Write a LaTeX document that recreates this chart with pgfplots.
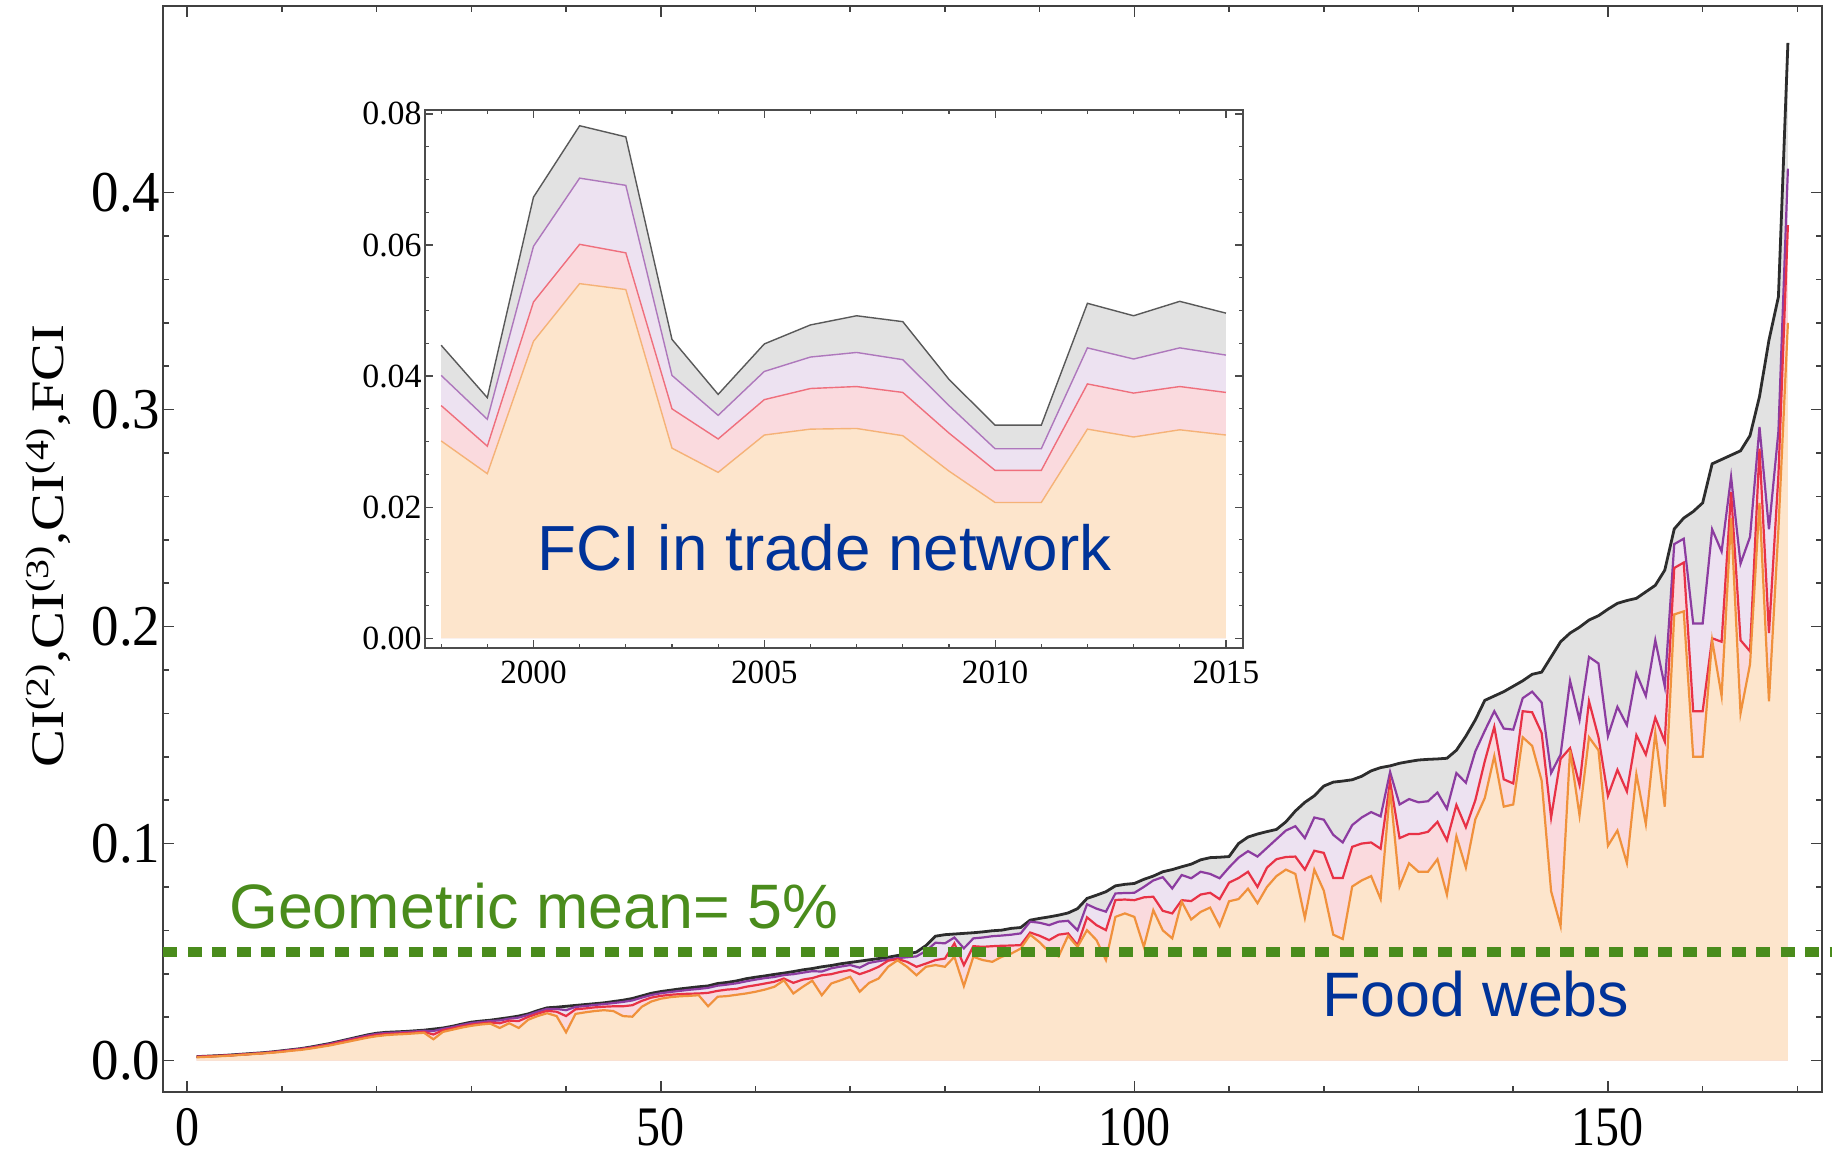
\documentclass[border=0pt]{standalone}
\usepackage{fontspec}
\setmainfont{Liberation Serif}
\newfontfamily\annofont{Liberation Sans}
\usepackage{pgfplots}
\usepackage{pgfplotstable}
\pgfplotsset{compat=1.18}

\definecolor{fciline}{RGB}{45,45,45}
\definecolor{civline}{RGB}{140,60,160}
\definecolor{ciiiline}{RGB}{232,50,70}
\definecolor{ciiline}{RGB}{240,145,60}
\definecolor{fcifill}{RGB}{226,226,226}
\definecolor{civfill}{RGB}{237,226,241}
\definecolor{ciiifill}{RGB}{250,218,222}
\definecolor{ciifill}{RGB}{253,229,204}
\definecolor{meangreen}{RGB}{74,140,28}
\definecolor{noteblue}{RGB}{0,51,153}

% food webs, ranked by FCI
\pgfplotstableread{
i fci civ ciii cii
1 0.0018 0.0018 0.0017 0.0015
2 0.0020 0.0019 0.0019 0.0017
3 0.0022 0.0021 0.0021 0.0019
4 0.0024 0.0023 0.0023 0.0021
5 0.0027 0.0026 0.0025 0.0024
6 0.0030 0.0029 0.0028 0.0027
7 0.0033 0.0032 0.0031 0.0030
8 0.0036 0.0035 0.0034 0.0033
9 0.0040 0.0039 0.0038 0.0036
10 0.0045 0.0044 0.0042 0.0040
11 0.0050 0.0049 0.0047 0.0045
12 0.0055 0.0054 0.0052 0.0049
13 0.0062 0.0060 0.0058 0.0055
14 0.0070 0.0068 0.0066 0.0062
15 0.0078 0.0076 0.0073 0.0069
16 0.0088 0.0086 0.0083 0.0078
17 0.0098 0.0096 0.0092 0.0087
18 0.0108 0.0105 0.0101 0.0096
19 0.0118 0.0115 0.0110 0.0105
20 0.0126 0.0123 0.0118 0.0112
21 0.0130 0.0127 0.0122 0.0117
22 0.0132 0.0129 0.0124 0.0120
23 0.0134 0.0131 0.0126 0.0122
24 0.0137 0.0134 0.0129 0.0125
25 0.0140 0.0137 0.0132 0.0128
26 0.0145 0.0136 0.0120 0.0098
27 0.0150 0.0146 0.0140 0.0132
28 0.0158 0.0154 0.0148 0.0142
29 0.0168 0.0164 0.0158 0.0152
30 0.0177 0.0173 0.0166 0.0160
31 0.0182 0.0178 0.0171 0.0166
32 0.0186 0.0182 0.0175 0.0170
33 0.0192 0.0185 0.0172 0.0150
34 0.0198 0.0193 0.0184 0.0172
35 0.0205 0.0198 0.0182 0.0150
36 0.0215 0.0210 0.0201 0.0188
37 0.0230 0.0225 0.0216 0.0205
38 0.0243 0.0238 0.0229 0.0218
39 0.0246 0.0238 0.0225 0.0205
40 0.0250 0.0232 0.0205 0.0130
41 0.0254 0.0247 0.0236 0.0215
42 0.0258 0.0251 0.0240 0.0222
43 0.0262 0.0256 0.0245 0.0228
44 0.0266 0.0260 0.0248 0.0232
45 0.0272 0.0265 0.0250 0.0228
46 0.0278 0.0270 0.0250 0.0205
47 0.0286 0.0277 0.0255 0.0202
48 0.0298 0.0290 0.0275 0.0248
49 0.0310 0.0302 0.0290 0.0272
50 0.0318 0.0310 0.0298 0.0285
51 0.0324 0.0316 0.0303 0.0292
52 0.0330 0.0321 0.0306 0.0296
53 0.0335 0.0326 0.0308 0.0298
54 0.0340 0.0330 0.0309 0.0301
55 0.0344 0.0335 0.0312 0.0250
56 0.0355 0.0345 0.0321 0.0294
57 0.0360 0.0350 0.0327 0.0297
58 0.0367 0.0356 0.0330 0.0303
59 0.0377 0.0365 0.0340 0.0309
60 0.0384 0.0373 0.0347 0.0317
61 0.0390 0.0380 0.0355 0.0327
62 0.0397 0.0385 0.0363 0.0340
63 0.0403 0.0394 0.0378 0.0370
64 0.0410 0.0398 0.0358 0.0309
65 0.0418 0.0405 0.0373 0.0340
66 0.0424 0.0412 0.0380 0.0368
67 0.0432 0.0410 0.0393 0.0301
68 0.0438 0.0425 0.0398 0.0355
69 0.0446 0.0433 0.0409 0.0370
70 0.0452 0.0440 0.0417 0.0386
71 0.0458 0.0428 0.0398 0.0317
72 0.0464 0.0450 0.0413 0.0358
73 0.0470 0.0458 0.0432 0.0378
74 0.0476 0.0465 0.0460 0.0432
75 0.0484 0.0472 0.0468 0.0462
76 0.0490 0.0476 0.0455 0.0432
77 0.0500 0.0480 0.0432 0.0393
78 0.0530 0.0505 0.0447 0.0432
79 0.0573 0.0543 0.0463 0.0440
80 0.0580 0.0540 0.0470 0.0432
81 0.0583 0.0567 0.0540 0.0478
82 0.0586 0.0517 0.0440 0.0343
83 0.0589 0.0563 0.0527 0.0478
84 0.0593 0.0567 0.0524 0.0463
85 0.0598 0.0573 0.0527 0.0455
86 0.0601 0.0576 0.0529 0.0478
87 0.0609 0.0580 0.0530 0.0493
88 0.0613 0.0586 0.0532 0.0516
89 0.0647 0.0640 0.0590 0.0580
90 0.0655 0.0635 0.0575 0.0545
91 0.0662 0.0624 0.0555 0.0500
92 0.0670 0.0640 0.0580 0.0480
93 0.0680 0.0644 0.0586 0.0575
94 0.0700 0.0600 0.0532 0.0524
95 0.0747 0.0720 0.0660 0.0601
96 0.0762 0.0700 0.0624 0.0555
97 0.0778 0.0686 0.0601 0.0463
98 0.0805 0.0770 0.0740 0.0662
99 0.0812 0.0772 0.0742 0.0678
100 0.0816 0.0773 0.0739 0.0662
101 0.0835 0.0800 0.0752 0.0524
102 0.0850 0.0830 0.0755 0.0693
103 0.0870 0.0845 0.0690 0.0600
104 0.0880 0.0793 0.0678 0.0563
105 0.0893 0.0855 0.0739 0.0732
106 0.0905 0.0840 0.0735 0.0650
107 0.0925 0.0870 0.0765 0.0685
108 0.0935 0.0860 0.0773 0.0705
109 0.0937 0.0840 0.0744 0.0620
110 0.0940 0.0890 0.0820 0.0734
111 0.1000 0.0935 0.0841 0.0744
112 0.1030 0.0965 0.0870 0.0792
113 0.1044 0.0940 0.0800 0.0725
114 0.1055 0.0980 0.0889 0.0800
115 0.1065 0.1020 0.0928 0.0850
116 0.1100 0.1060 0.0938 0.0880
117 0.1150 0.1080 0.0940 0.0860
118 0.1190 0.1025 0.0880 0.0657
119 0.1220 0.1120 0.0967 0.0880
120 0.1265 0.1110 0.0957 0.0783
121 0.1283 0.1040 0.0841 0.0580
122 0.1288 0.1005 0.0841 0.0560
123 0.1294 0.1085 0.0985 0.0802
124 0.1310 0.1120 0.1000 0.0830
125 0.1335 0.1145 0.1005 0.0850
126 0.1350 0.1125 0.0976 0.0744
127 0.1358 0.1330 0.1286 0.1248
128 0.1370 0.1180 0.1025 0.0802
129 0.1378 0.1205 0.1044 0.0909
130 0.1385 0.1190 0.1044 0.0870
131 0.1388 0.1195 0.1054 0.0870
132 0.1390 0.1235 0.1100 0.0928
133 0.1393 0.1160 0.1015 0.0764
134 0.1430 0.1325 0.1178 0.1034
135 0.1495 0.1280 0.1075 0.0889
136 0.1570 0.1425 0.1200 0.1112
137 0.1660 0.1520 0.1380 0.1210
138 0.1680 0.1610 0.1538 0.1403
139 0.1700 0.1530 0.1296 0.1170
140 0.1725 0.1525 0.1277 0.1180
141 0.1750 0.1670 0.1610 0.1490
142 0.1780 0.1700 0.1605 0.1450
143 0.1790 0.1650 0.1510 0.1290
144 0.1860 0.1325 0.1120 0.0780
145 0.1930 0.1410 0.1390 0.0620
146 0.1970 0.1750 0.1440 0.1430
147 0.1997 0.1570 0.1270 0.1130
148 0.2030 0.1860 0.1656 0.1490
149 0.2050 0.1830 0.1490 0.1430
150 0.2080 0.1495 0.1220 0.0990
151 0.2107 0.1630 0.1340 0.1060
152 0.2120 0.1546 0.1240 0.0910
153 0.2130 0.1784 0.1500 0.1320
154 0.2160 0.1680 0.1410 0.1090
155 0.2190 0.1937 0.1580 0.1510
156 0.2260 0.1724 0.1470 0.1170
157 0.2450 0.2380 0.2270 0.2056
158 0.2500 0.2405 0.2295 0.2070
159 0.2530 0.2014 0.1610 0.1400
160 0.2570 0.2014 0.1610 0.1400
161 0.2750 0.2448 0.1946 0.1937
162 0.2770 0.2346 0.1930 0.1680
163 0.2790 0.2690 0.2620 0.2500
164 0.2810 0.2290 0.1937 0.1600
165 0.2880 0.2413 0.1886 0.1826
166 0.3060 0.2920 0.2820 0.2570
167 0.3320 0.2448 0.1970 0.1656
168 0.3520 0.2900 0.2700 0.2450
169 0.4690 0.4110 0.3850 0.3400
}\foodwebs

% trade network, by year
\pgfplotstableread{
year fci civ ciii cii
1998 0.0447 0.0401 0.0355 0.0301
1999 0.0367 0.0334 0.0293 0.0251
2000 0.0673 0.0598 0.0513 0.0453
2001 0.0782 0.0702 0.0601 0.0541
2002 0.0765 0.0691 0.0588 0.0532
2003 0.0456 0.0401 0.0350 0.0290
2004 0.0372 0.0340 0.0304 0.0253
2005 0.0449 0.0407 0.0364 0.0310
2006 0.0478 0.0429 0.0381 0.0319
2007 0.0492 0.0436 0.0384 0.0320
2008 0.0483 0.0425 0.0375 0.0309
2009 0.0395 0.0355 0.0313 0.0255
2010 0.0325 0.0289 0.0256 0.0207
2011 0.0325 0.0289 0.0256 0.0207
2012 0.0511 0.0443 0.0388 0.0319
2013 0.0492 0.0426 0.0374 0.0307
2014 0.0514 0.0443 0.0384 0.0318
2015 0.0496 0.0432 0.0375 0.0310
}\trade

\pgfplotsset{
  frame/.style={
    scale only axis,
    axis line style={black!75, line width=1bp},
    every tick/.style={black!75, line width=0.8bp},
    tick align=inside,
    tick pos=both,
    no markers,
    scaled ticks=false,
    /pgf/number format/assume math mode=true,
  },
}

\begin{document}
\begin{tikzpicture}
\path[use as bounding box] (-81.75bp,-31bp) rectangle (834.25bp,546bp);

% main panel: food webs
\begin{axis}[
  frame,
  at={(0bp,0bp)}, anchor=south west,
  width=829.25bp, height=543bp,
  xmin=-2.5, xmax=172.6, ymin=-0.0145, ymax=0.486,
  xtick={0,50,100,150},
  minor xtick={10,20,30,40,60,70,80,90,110,120,130,140,160,170},
  ytick={0,0.1,0.2,0.3,0.4},
  minor y tick num=4,
  major tick length=5.5bp, minor tick length=3bp,
  xticklabel style={font=\fontsize{28}{28}\selectfont, xscale=0.86,
    inner ysep=0pt, yshift=-8bp},
  yticklabel style={font=\fontsize{29}{29}\selectfont, xscale=0.95, inner xsep=1.5bp,
    /pgf/number format/fixed, /pgf/number format/fixed zerofill,
    /pgf/number format/precision=1},
  clip=false,
]
  \addplot[draw=none, fill=fcifill] table[x=i, y=fci] {\foodwebs} \closedcycle;
  \addplot[draw=none, fill=civfill] table[x=i, y=civ] {\foodwebs} \closedcycle;
  \addplot[draw=none, fill=ciiifill] table[x=i, y=ciii] {\foodwebs} \closedcycle;
  \addplot[draw=none, fill=ciifill] table[x=i, y=cii] {\foodwebs} \closedcycle;
  \addplot[fciline, line width=1.4bp] table[x=i, y=fci] {\foodwebs};
  \addplot[civline, line width=1.1bp] table[x=i, y=civ] {\foodwebs};
  \addplot[ciiiline, line width=1.1bp] table[x=i, y=ciii] {\foodwebs};
  \addplot[ciiline, line width=1.1bp] table[x=i, y=cii] {\foodwebs};
  % geometric mean of FCI across food webs
  \addplot[meangreen, line width=4.7bp, dash pattern=on 7bp off 5.25bp]
    coordinates {(-2.5,0.05) (176,0.05)};
  \node[anchor=base west, inner sep=0pt, text=meangreen,
        font=\annofont\fontsize{31.5}{31.5}\selectfont]
    at (axis cs:4.4,0.061) {Geometric mean= 5\%};
  \node[anchor=base west, inner sep=0pt, text=noteblue,
        font=\annofont\fontsize{31.5}{31.5}\selectfont]
    at (axis cs:119.8,0.0204) {Food webs};
\end{axis}

\node[rotate=90, yscale=0.82, font=\fontsize{28.5}{28.5}\selectfont]
  at (-57.5bp,273bp) {CI\textsuperscript{(2)},CI\textsuperscript{(3)},CI\textsuperscript{(4)},FCI};

% inset: trade network
\begin{axis}[
  frame,
  at={(130.75bp,222bp)}, anchor=south west,
  width=409bp, height=269bp,
  axis background/.style={fill=white},
  xmin=1997.65, xmax=2015.37, ymin=-0.0015, ymax=0.0806,
  xtick={2000,2005,2010,2015},
  minor xtick={1998,1999,2001,2002,2003,2004,2006,2007,2008,2009,2011,2012,2013,2014},
  ytick={0,0.02,0.04,0.06,0.08},
  minor y tick num=3,
  major tick length=4bp, minor tick length=2bp,
  axis line style={black!70, line width=0.8bp},
  every tick/.style={black!70, line width=0.6bp},
  xticklabel style={font=\fontsize{17}{17}\selectfont, xscale=0.98, yshift=-3bp,
    /pgf/number format/set thousands separator={}},
  yticklabel style={font=\fontsize{17}{17}\selectfont, xscale=1.0, inner xsep=1.5bp,
    /pgf/number format/fixed, /pgf/number format/fixed zerofill,
    /pgf/number format/precision=2},
  clip=false,
]
  \addplot[draw=none, fill=fcifill] table[x=year, y=fci] {\trade} \closedcycle;
  \addplot[draw=none, fill=civfill] table[x=year, y=civ] {\trade} \closedcycle;
  \addplot[draw=none, fill=ciiifill] table[x=year, y=ciii] {\trade} \closedcycle;
  \addplot[draw=none, fill=ciifill] table[x=year, y=cii] {\trade} \closedcycle;
  \addplot[black!65, line width=0.7bp] table[x=year, y=fci] {\trade};
  \addplot[civline!70, line width=0.7bp] table[x=year, y=civ] {\trade};
  \addplot[ciiiline!70, line width=0.7bp] table[x=year, y=ciii] {\trade};
  \addplot[ciiline!70, line width=0.7bp] table[x=year, y=cii] {\trade};
  \node[anchor=base west, inner sep=0pt, text=noteblue,
        font=\annofont\fontsize{32}{32}\selectfont]
    at (axis cs:2000.08,0.0104) {FCI in trade network};
\end{axis}
\end{tikzpicture}
\end{document}
